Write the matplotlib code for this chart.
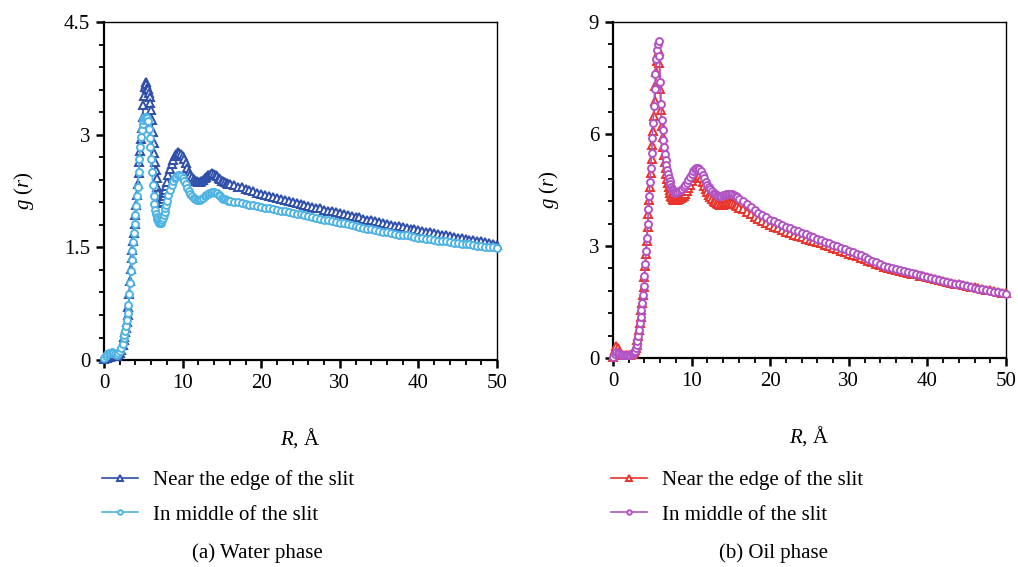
import numpy as np
import matplotlib
matplotlib.use('Agg')
import matplotlib.pyplot as plt
from matplotlib.ticker import MultipleLocator, FixedLocator, FixedFormatter

plt.rcParams['font.family'] = ['Liberation Serif', 'DejaVu Serif']
plt.rcParams['mathtext.fontset'] = 'custom'
plt.rcParams['mathtext.rm'] = 'Liberation Serif'
plt.rcParams['mathtext.it'] = 'Liberation Serif:italic'

# sampling radii (finer grid around the first peaks)
r = np.concatenate([
    np.round(np.arange(0.0, 2.41, 0.2), 2),
    np.round(np.arange(2.5, 8.01, 0.1), 2),
    np.round(np.arange(8.2, 16.01, 0.2), 2),
    np.round(np.arange(16.5, 50.01, 0.5), 2),
])

# water phase, near the edge of the slit
water_edge = [
    0.02, 0.05, 0.03, 0.06, 0.04, 0.05, 0.07, 0.05, 0.06, 0.08, 0.10, 0.14, 0.20,
    0.27, 0.31, 0.37, 0.43, 0.51, 0.60, 0.71, 0.88, 1.05, 1.21,
    1.36, 1.47, 1.58, 1.69, 1.81, 1.93, 2.06, 2.20, 2.34, 2.49,
    2.64, 2.79, 2.94, 3.09, 3.24, 3.39, 3.52, 3.63, 3.70, 3.67,
    3.62, 3.61, 3.55, 3.50, 3.42, 3.33, 3.19, 3.04, 2.89, 2.76,
    2.64, 2.53, 2.42, 2.31, 2.22, 2.15, 2.11, 2.09, 2.09, 2.11,
    2.14, 2.18, 2.22, 2.27, 2.32, 2.37,
    2.46, 2.54, 2.61, 2.67, 2.72, 2.75, 2.77, 2.76, 2.75, 2.72,
    2.68, 2.62, 2.56, 2.51, 2.47, 2.44, 2.41, 2.39, 2.38, 2.37,
    2.37, 2.38, 2.40, 2.42, 2.44, 2.46, 2.47, 2.48, 2.49, 2.48,
    2.47, 2.45, 2.43, 2.41, 2.39, 2.38, 2.37, 2.36, 2.35, 2.34,
    2.33, 2.31, 2.30, 2.28, 2.27, 2.25, 2.23, 2.21,
    2.20, 2.18, 2.17, 2.16, 2.14, 2.13, 2.12, 2.10, 2.09, 2.08,
    2.07, 2.05, 2.04, 2.03, 2.02, 2.00, 1.99, 1.98, 1.97, 1.96,
    1.95, 1.93, 1.92, 1.91, 1.90, 1.88, 1.87, 1.86, 1.85, 1.84,
    1.83, 1.81, 1.80, 1.79, 1.78, 1.77, 1.76, 1.75, 1.74, 1.73,
    1.72, 1.71, 1.70, 1.69, 1.68, 1.67, 1.66, 1.65, 1.64, 1.63,
    1.62, 1.61, 1.60, 1.60, 1.59, 1.58, 1.57, 1.56, 1.55, 1.53,
]

# water phase, in the middle of the slit
water_middle = [
    0.03, 0.06, 0.08, 0.10, 0.09, 0.11, 0.10, 0.08, 0.07, 0.09, 0.12, 0.16, 0.22,
    0.29, 0.34, 0.39, 0.45, 0.53, 0.62, 0.73, 0.88, 1.03, 1.18,
    1.33, 1.45, 1.57, 1.69, 1.81, 1.93, 2.05, 2.18, 2.31, 2.50,
    2.68, 2.84, 2.97, 3.07, 3.14, 3.19, 3.22, 3.24, 3.24, 3.23,
    3.22, 3.18, 3.08, 2.96, 2.84, 2.68, 2.50, 2.33, 2.18, 2.08,
    2.00, 1.95, 1.91, 1.88, 1.85, 1.83, 1.82, 1.83, 1.84, 1.86,
    1.89, 1.93, 1.97, 2.02, 2.07, 2.12,
    2.20, 2.27, 2.33, 2.38, 2.42, 2.44, 2.46, 2.46, 2.45, 2.43,
    2.39, 2.34, 2.29, 2.25, 2.21, 2.18, 2.16, 2.14, 2.13, 2.13,
    2.13, 2.14, 2.16, 2.18, 2.20, 2.21, 2.22, 2.23, 2.24, 2.24,
    2.23, 2.22, 2.20, 2.18, 2.16, 2.15, 2.14, 2.13, 2.12, 2.12,
    2.11, 2.10, 2.09, 2.08, 2.07, 2.06, 2.05, 2.04,
    2.03, 2.02, 2.01, 2.00, 1.99, 1.98, 1.97, 1.96, 1.95, 1.94,
    1.93, 1.92, 1.90, 1.89, 1.88, 1.87, 1.86, 1.85, 1.84, 1.83,
    1.82, 1.81, 1.80, 1.78, 1.77, 1.76, 1.75, 1.74, 1.73, 1.72,
    1.71, 1.70, 1.69, 1.68, 1.67, 1.66, 1.66, 1.65, 1.64, 1.63,
    1.62, 1.61, 1.61, 1.60, 1.59, 1.58, 1.58, 1.57, 1.56, 1.56,
    1.55, 1.54, 1.54, 1.53, 1.52, 1.52, 1.51, 1.50, 1.50, 1.49,
]

# oil phase, near the edge of the slit
oil_edge = [
    0.02, 0.22, 0.33, 0.27, 0.15, 0.10, 0.08, 0.07, 0.08, 0.07, 0.08, 0.09, 0.10,
    0.12, 0.14, 0.17, 0.21, 0.28, 0.36, 0.47, 0.60, 0.76, 0.93,
    1.10, 1.28, 1.47, 1.68, 1.90, 2.16, 2.46, 2.79, 3.14, 3.50,
    3.86, 4.22, 4.58, 4.95, 5.32, 5.70, 6.08, 6.48, 6.88, 7.28,
    7.65, 7.95, 8.15, 8.22, 7.90, 7.20, 6.65, 6.22, 5.92, 5.66,
    5.45, 5.25, 5.08, 4.93, 4.80, 4.68, 4.58, 4.49, 4.41, 4.35,
    4.30, 4.26, 4.23, 4.22, 4.22, 4.23,
    4.24, 4.26, 4.28, 4.31, 4.35, 4.40, 4.47, 4.55, 4.64, 4.73,
    4.81, 4.87, 4.90, 4.90, 4.87, 4.81, 4.72, 4.62, 4.52, 4.44,
    4.37, 4.31, 4.26, 4.21, 4.17, 4.14, 4.12, 4.11, 4.10, 4.11,
    4.13, 4.14, 4.15, 4.16, 4.16, 4.15, 4.13, 4.10, 4.07, 4.03,
    3.98, 3.92, 3.86, 3.79, 3.72, 3.67, 3.62, 3.57,
    3.52, 3.47, 3.42, 3.38, 3.34, 3.30, 3.26, 3.23, 3.19, 3.16,
    3.13, 3.10, 3.07, 3.03, 2.99, 2.95, 2.91, 2.87, 2.83, 2.79,
    2.76, 2.72, 2.69, 2.65, 2.61, 2.57, 2.53, 2.49, 2.45, 2.41,
    2.39, 2.36, 2.34, 2.31, 2.29, 2.26, 2.24, 2.21, 2.19, 2.16,
    2.14, 2.11, 2.09, 2.06, 2.04, 2.02, 1.99, 1.97, 1.95, 1.93,
    1.91, 1.89, 1.87, 1.85, 1.83, 1.81, 1.79, 1.77, 1.75, 1.73,
]

# oil phase, in the middle of the slit
oil_middle = [
    0.02, 0.10, 0.15, 0.14, 0.11, 0.09, 0.08, 0.08, 0.07, 0.08, 0.08, 0.09, 0.10,
    0.12, 0.14, 0.16, 0.20, 0.26, 0.34, 0.45, 0.58, 0.75, 0.93,
    1.10, 1.28, 1.48, 1.69, 1.92, 2.20, 2.52, 2.86, 3.22, 3.60,
    3.98, 4.35, 4.72, 5.10, 5.48, 5.90, 6.30, 6.75, 7.20, 7.62,
    8.00, 8.25, 8.40, 8.50, 8.10, 7.40, 6.80, 6.37, 6.10, 5.85,
    5.65, 5.47, 5.30, 5.16, 5.04, 4.93, 4.83, 4.73, 4.65, 4.58,
    4.53, 4.49, 4.46, 4.44, 4.43, 4.44,
    4.46, 4.48, 4.50, 4.54, 4.58, 4.63, 4.70, 4.78, 4.86, 4.94,
    5.01, 5.06, 5.09, 5.09, 5.06, 5.00, 4.91, 4.81, 4.71, 4.63,
    4.57, 4.52, 4.47, 4.43, 4.40, 4.37, 4.35, 4.35, 4.35, 4.36,
    4.38, 4.39, 4.40, 4.40, 4.40, 4.39, 4.37, 4.34, 4.31, 4.27,
    4.20, 4.12, 4.04, 3.96, 3.89, 3.83, 3.77, 3.71,
    3.66, 3.61, 3.56, 3.51, 3.47, 3.43, 3.39, 3.35, 3.31, 3.27,
    3.23, 3.19, 3.15, 3.11, 3.07, 3.03, 2.99, 2.95, 2.91, 2.87,
    2.83, 2.79, 2.75, 2.70, 2.66, 2.61, 2.56, 2.51, 2.47, 2.43,
    2.41, 2.38, 2.35, 2.33, 2.30, 2.27, 2.25, 2.22, 2.20, 2.17,
    2.14, 2.12, 2.09, 2.07, 2.04, 2.02, 1.99, 1.97, 1.95, 1.93,
    1.91, 1.88, 1.86, 1.84, 1.82, 1.80, 1.78, 1.76, 1.74, 1.72,
]

labels = ['Near the edge of the slit', 'In middle of the slit']
captions = ['(a) Water phase', '(b) Oil phase']
water_ticks = [0, 1.5, 3, 4.5]
water_ticklabels = ['0', '1.5', '3', '4.5']
oil_ticks = [0, 3, 6, 9]
oil_ticklabels = ['0', '3', '6', '9']

FS = 15

fig = plt.figure(figsize=(10.18, 5.67), dpi=100)
ax1 = fig.add_axes([0.1022, 0.365, 0.386, 0.596])
ax2 = fig.add_axes([0.6022, 0.3686, 0.386, 0.5925])


def style_axis(ax, ticks, ticklabels, minor_step):
    ax.set_xlim(0, 50)
    ax.set_ylim(ticks[0], ticks[-1])
    ax.xaxis.set_major_locator(MultipleLocator(10))
    ax.xaxis.set_minor_locator(MultipleLocator(2))
    ax.yaxis.set_major_locator(FixedLocator(ticks))
    ax.yaxis.set_major_formatter(FixedFormatter(ticklabels))
    ax.yaxis.set_minor_locator(MultipleLocator(minor_step))
    ax.tick_params(which='major', direction='out', length=6, width=1.8, labelsize=FS, pad=4)
    ax.tick_params(which='minor', direction='out', length=3.5, width=1.3)
    for s in ax.spines.values():
        s.set_linewidth(1.0)
    ax.spines['left'].set_linewidth(1.6)
    ax.spines['bottom'].set_linewidth(1.6)
    ax.set_xlabel(r'$R$, Å', fontsize=FS, labelpad=24)
    ax.set_ylabel(r'$g$ ($r$)', fontsize=FS, labelpad=20)


def draw(ax, edge, middle, c_edge, c_mid):
    h1, = ax.plot(r, edge, color=c_edge, lw=1.2, marker='^', ms=6, mfc='white',
                  mec=c_edge, mew=1.4, clip_on=False, zorder=3)
    h2, = ax.plot(r, middle, color=c_mid, lw=1.2, marker='o', ms=5, mfc='white',
                  mec=c_mid, mew=1.4, clip_on=False, zorder=4)
    return h1, h2


style_axis(ax1, water_ticks, water_ticklabels, 0.3)
style_axis(ax2, oil_ticks, oil_ticklabels, 0.6)

w = draw(ax1, water_edge, water_middle, '#2f4fa8', '#4fb3e3')
o = draw(ax2, oil_edge, oil_middle, '#e8342c', '#b253c4')

for ax, handles, x0 in [(ax1, w, 0.100), (ax2, o, 0.600)]:
    ax.legend(handles, labels, loc='upper left', bbox_to_anchor=(x0, 0.171),
              bbox_transform=fig.transFigure, frameon=False, fontsize=FS,
              handlelength=1.75, handletextpad=0.7, labelspacing=0.72,
              borderpad=0, borderaxespad=0, markerscale=0.65)

fig.text(0.2525, 0.025, captions[0], ha='center', va='center', fontsize=FS)
fig.text(0.760, 0.025, captions[1], ha='center', va='center', fontsize=FS)

fig.savefig('out.png', dpi=100)
